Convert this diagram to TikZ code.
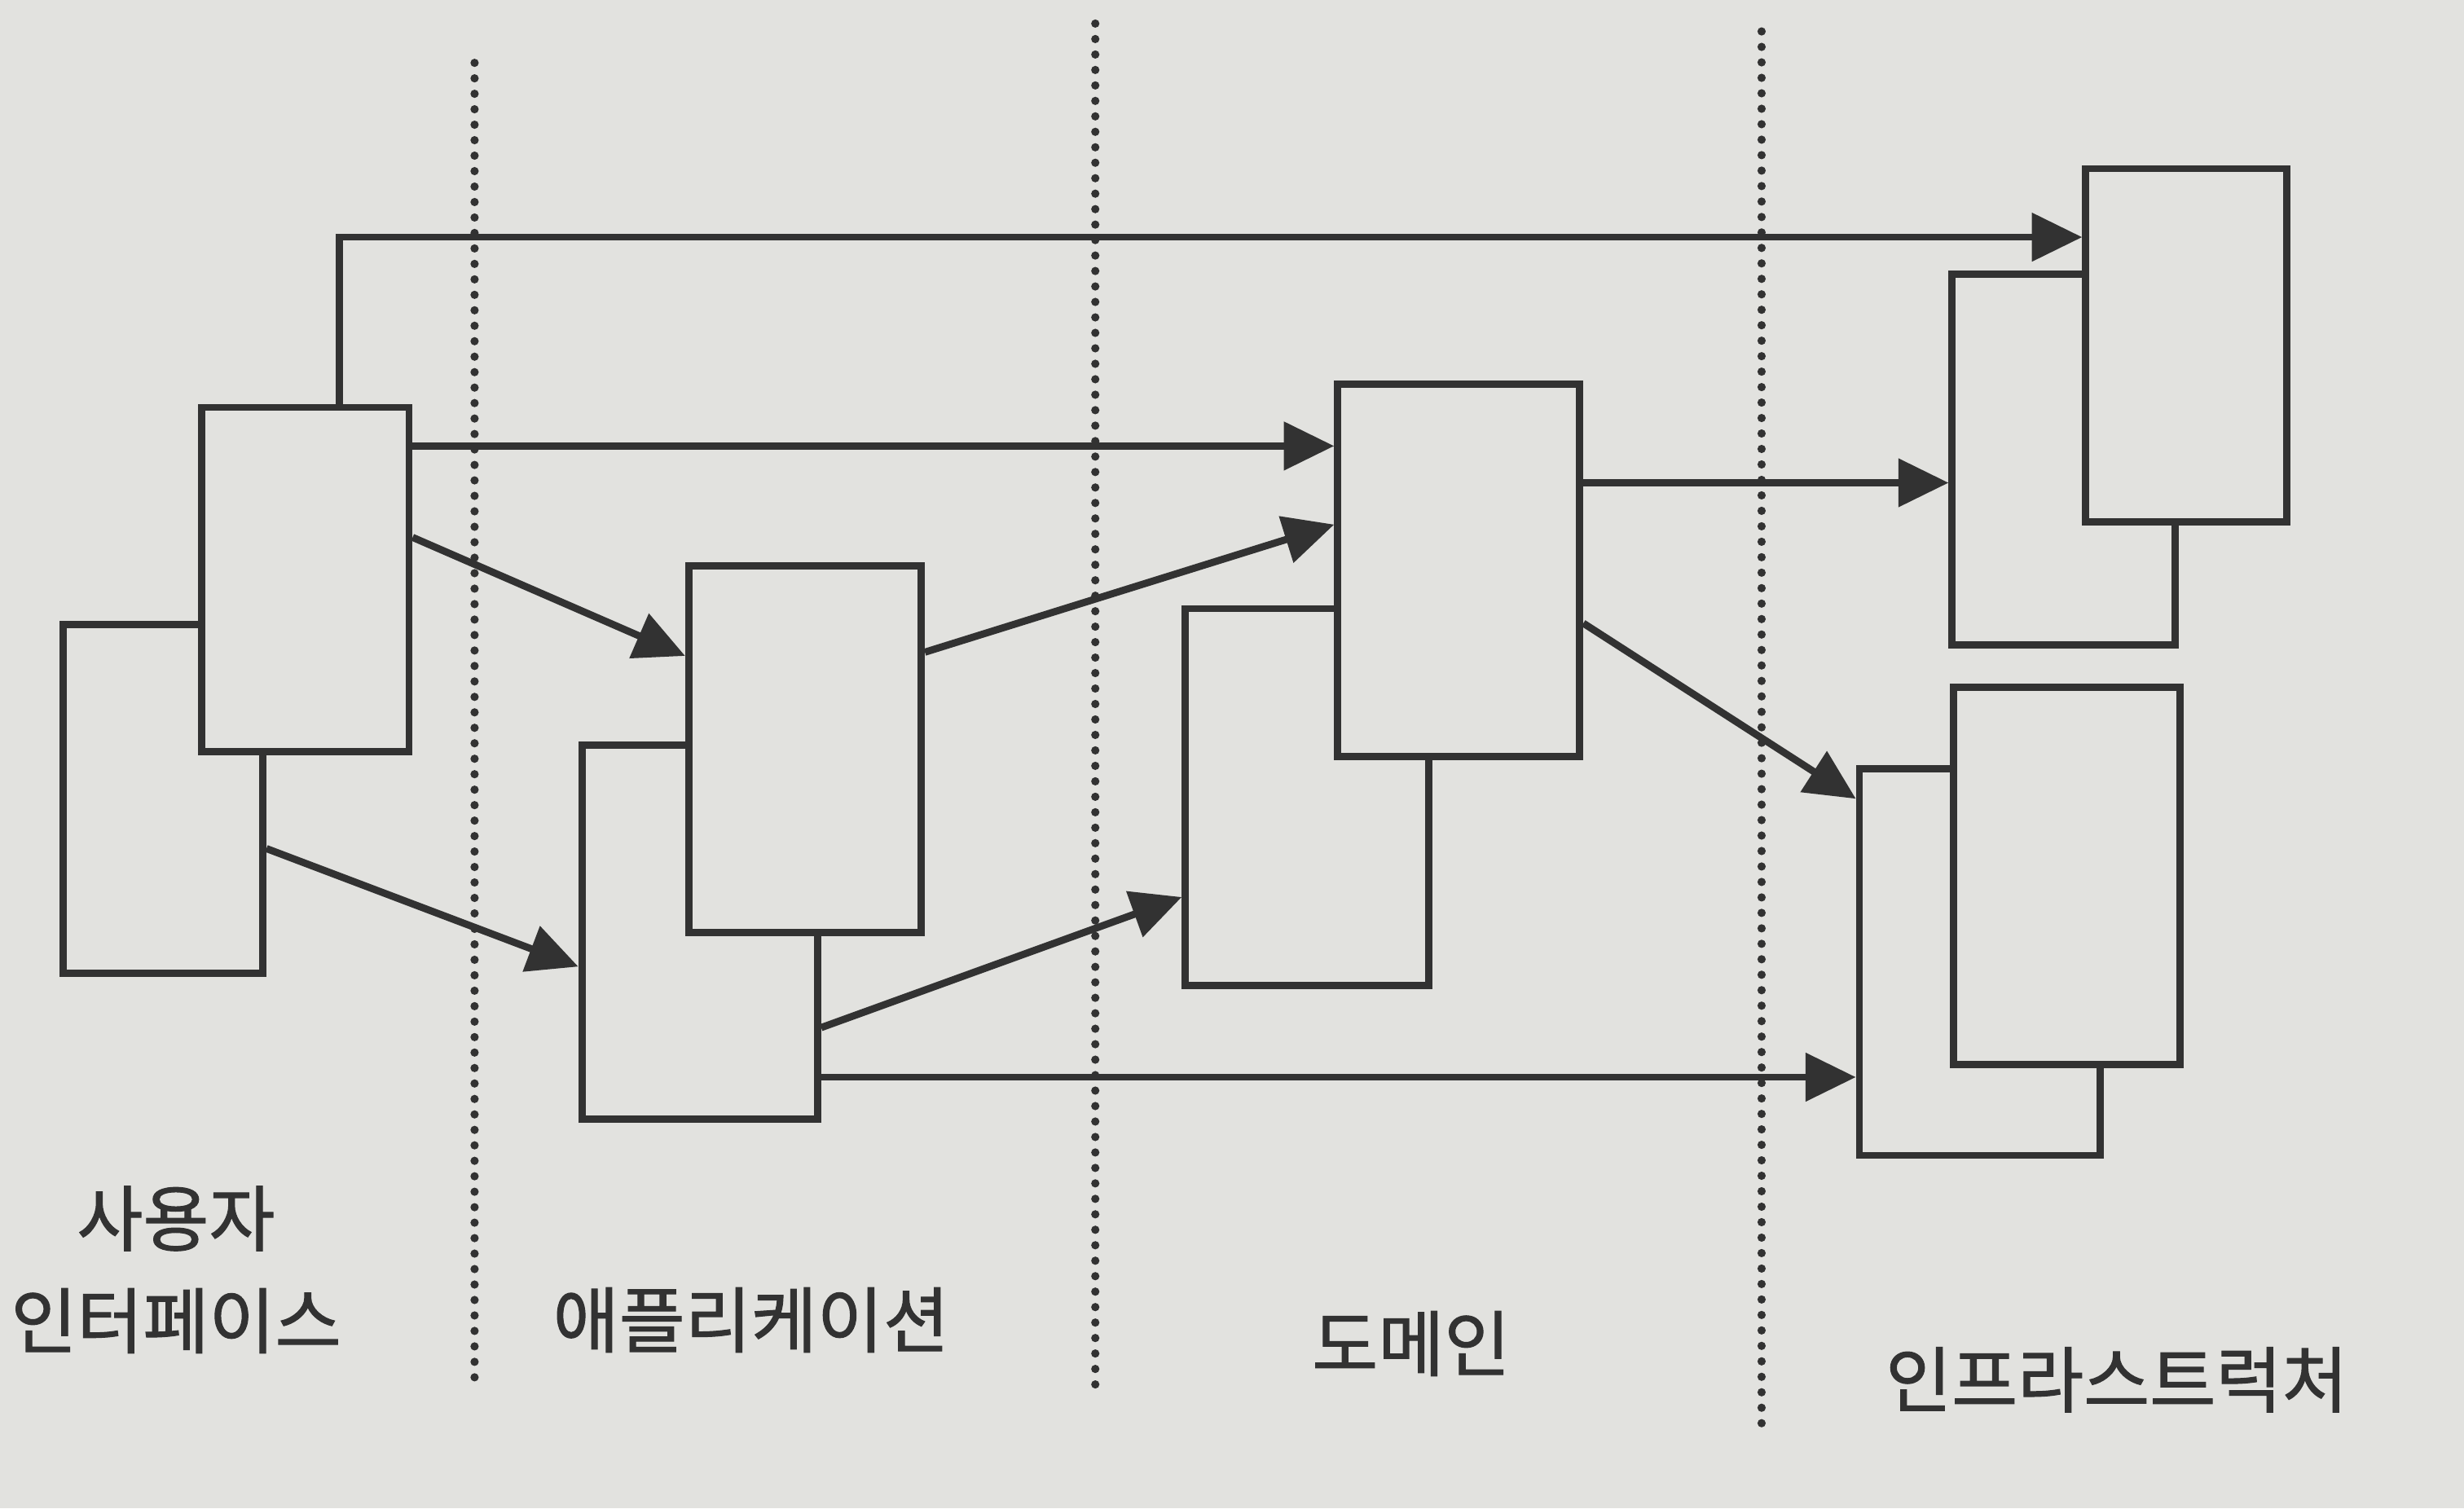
\documentclass[tikz,border=0pt]{standalone}
\usepackage{fontspec}
\usepackage{tikz}
\usetikzlibrary{arrows.meta, positioning, calc, backgrounds}
\newfontfamily\krfont[FakeBold=1.2]{Noto Sans CJK KR}
\definecolor{PageGray}{RGB}{226,226,223}
\definecolor{InkDark}{RGB}{50,50,50}

\begin{document}
\begin{tikzpicture}[
        box/.style={rectangle,draw=InkDark,fill=PageGray,line width=1.3pt,
                    anchor=north west,inner sep=0pt},
        arr/.style={draw=InkDark,line width=1.3pt,
                    -{Triangle[length=3.2mm,width=3mm]}},
        sep/.style={draw=InkDark,line width=1.5pt,line cap=round,
                    dash pattern=on 0pt off 2.8pt},
        lbl/.style={font=\krfont\fontsize{13}{18.5}\selectfont,
                    text=InkDark,align=center}
      ]
        \fill[PageGray] (0,0) rectangle (15.68,9.60);
        \useasboundingbox (0,0) rectangle (15.68,9.60);
        % layer borders
        \coordinate (s1t) at (3.02,9.20);
        \coordinate (s1b) at (3.02,0.80);
        \coordinate (s2t) at (6.97,9.45);
        \coordinate (s2b) at (6.97,0.70);
        \coordinate (s3t) at (11.21,9.40);
        \coordinate (s3b) at (11.21,0.50);
        \draw[sep] (s1t) -- (s1b);
        \draw[sep] (s2t) -- (s2b);
        \draw[sep] (s3t) -- (s3b);
        % objects, back ones first
        \node[box,minimum width=1.27cm,minimum height=2.22cm] (uiB) at (0.38,5.65) {};
        \node[box,minimum width=1.32cm,minimum height=2.19cm] (uiF) at (1.26,7.03) {};
        \node[box,minimum width=1.50cm,minimum height=2.38cm] (apB) at (3.68,4.88) {};
        \node[box,minimum width=1.48cm,minimum height=2.33cm] (apF) at (4.36,6.02) {};
        \node[box,minimum width=1.55cm,minimum height=2.40cm] (doB) at (7.52,5.75) {};
        \node[box,minimum width=1.54cm,minimum height=2.37cm] (doF) at (8.49,7.18) {};
        \node[box,minimum width=1.42cm,minimum height=2.36cm] (inB1) at (12.40,7.88) {};
        \node[box,minimum width=1.28cm,minimum height=2.25cm] (inF1) at (13.25,8.55) {};
        \node[box,minimum width=1.53cm,minimum height=2.46cm] (inB2) at (11.81,4.73) {};
        \node[box,minimum width=1.44cm,minimum height=2.40cm] (inF2) at (12.41,5.25) {};
        % dependencies
        \draw[arr] ($(uiF.north west)!0.66!(uiF.north east)$)
          |- ($(inF1.north west)!0.2!(inF1.south west)$);
        \coordinate (a2) at ($(uiF.north east)!0.12!(uiF.south east)$);
        \draw[arr] (a2) -- (a2 -| doF.west);
        \draw[arr] ($(uiF.north east)!0.38!(uiF.south east)$)
          -- ($(apF.north west)!0.25!(apF.south west)$);
        \draw[arr] ($(uiB.north east)!0.64!(uiB.south east)$)
          -- ($(apB.north west)!0.59!(apB.south west)$);
        \draw[arr] ($(apF.north east)!0.24!(apF.south east)$)
          -- ($(doF.north west)!0.38!(doF.south west)$);
        \draw[arr] ($(apB.north east)!0.75!(apB.south east)$)
          -- ($(doB.north west)!0.76!(doB.south west)$);
        \coordinate (a7) at ($(apB.north east)!0.88!(apB.south east)$);
        \draw[arr] (a7) -- (a7 -| inB2.west);
        \coordinate (a8) at ($(doF.north east)!0.27!(doF.south east)$);
        \draw[arr] (a8) -- (a8 -| inB1.west);
        \draw[arr] ($(doF.north east)!0.64!(doF.south east)$)
          -- ($(inB2.north west)!0.085!(inB2.south west)$);
        % layer names
        \node[lbl] (uiLbl) at (1.12,1.52) {사용자\\인터페이스};
        \node[lbl] (apLbl) at (4.78,1.20) {애플리케이션};
        \node[lbl] (doLbl) at (8.98,1.05) {도메인};
        \node[lbl] (inLbl) at (13.47,0.82) {인프라스트럭처};
      \end{tikzpicture}
\end{document}
